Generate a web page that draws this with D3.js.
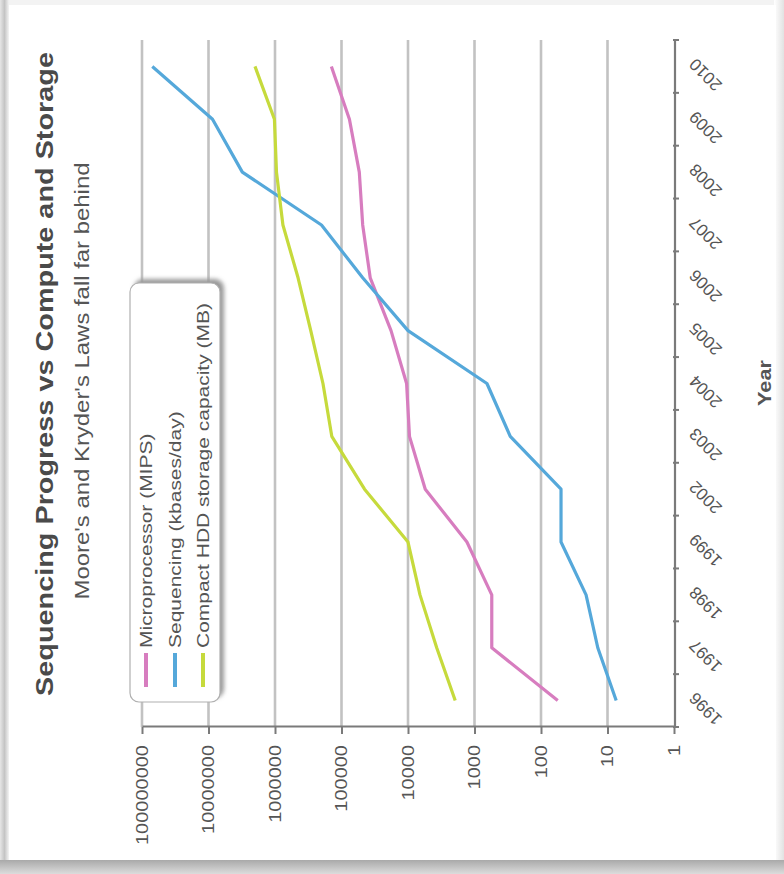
<!DOCTYPE html>
<html><head><meta charset="utf-8">
<script src="https://cdn.jsdelivr.net/npm/d3@7"></script>
<style>body{margin:0;background:#fff}svg{display:block;font-family:"Liberation Sans",Arial,sans-serif}</style>
</head><body><svg id="c" width="784" height="874"></svg>
<script>
const years = ["1996","1997","1998","1999","2002","2003","2004","2005","2006","2007","2008","2009","2010"];
const microprocessor = [56, 550, 550, 1300, 5500, 9500, 10500, 18000, 37000, 48000, 54000, 76000, 142000];
const sequencing = [7.4, 14, 21, 50, 50, 290, 650, 10000, 48000, 200000, 3100000, 8700000, 70000000];
const hdd = [1950, 3700, 6600, 10000, 45000, 140000, 190000, 290000, 450000, 760000, 950000, 1020000, 2000000];
const valueTicks = [1, 10, 100, 1000, 10000, 100000, 1000000, 10000000, 100000000];
const seriesNames = ["Microprocessor (MIPS)", "Sequencing (kbases/day)", "Compact HDD storage capacity (MB)"];
const seriesColors = ["#d77dbf", "#55a8da", "#c6da3c"];
const title = "Sequencing Progress vs Compute and Storage";
const subtitle = "Moore's and Kryder's Laws fall far behind";
const axisTitle = "Year";

const svg = d3.select("#c");
const defs = svg.append("defs");
const gb = defs.append("linearGradient").attr("id","gb").attr("x1",0).attr("y1",0).attr("x2",0).attr("y2",1);
gb.append("stop").attr("offset",0).attr("stop-color","#a9a9a9");
gb.append("stop").attr("offset",1).attr("stop-color","#dcdcdc");
const gl = defs.append("linearGradient").attr("id","gl").attr("x1",0).attr("y1",0).attr("x2",1).attr("y2",0);
gl.append("stop").attr("offset",0).attr("stop-color","#e6e6e6");
gl.append("stop").attr("offset",0.5).attr("stop-color","#c4c4c4");
gl.append("stop").attr("offset",1).attr("stop-color","#f4f4f4");
const gr = defs.append("linearGradient").attr("id","gr").attr("x1",0).attr("y1",0).attr("x2",1).attr("y2",0);
gr.append("stop").attr("offset",0).attr("stop-color","#ffffff");
gr.append("stop").attr("offset",1).attr("stop-color","#e2e2e2");
const blur = defs.append("filter").attr("id","sh").attr("x","-20%").attr("y","-20%").attr("width","140%").attr("height","140%");
blur.append("feGaussianBlur").attr("stdDeviation",2);

// page frame / shadow
svg.append("rect").attr("width",784).attr("height",874).attr("fill","#f3f3f3");
svg.append("rect").attr("x",0).attr("y",0).attr("width",9).attr("height",874).attr("fill","url(#gl)");
svg.append("rect").attr("x",774).attr("y",0).attr("width",10).attr("height",874).attr("fill","url(#gr)");
svg.append("rect").attr("x",9).attr("y",5).attr("width",767).attr("height",855).attr("fill","#fff");
svg.append("rect").attr("x",0).attr("y",860).attr("width",784).attr("height",14).attr("fill","url(#gb)");

// chart drawn in original orientation, then rotated 90deg counter-clockwise
const g = svg.append("g").attr("transform","translate(0,874) rotate(-90)");
const SX = 1.22;

const x = d3.scaleBand().domain(years).range([147, 834]).padding(0);
const cx = d => x(d) + x.bandwidth()/2;
const y = d3.scaleLog().domain([1, 1e8]).range([674, 142]);

// gridlines
g.append("g").selectAll("line").data(valueTicks.slice(1)).join("line")
  .attr("x1",147).attr("x2",834).attr("y1",d=>y(d)).attr("y2",d=>y(d))
  .attr("stroke","#c2c2c2").attr("stroke-width",2.6);

// value axis
const ya = g.append("g").attr("transform","translate(147,0)")
  .call(d3.axisLeft(y).tickValues(valueTicks).tickFormat(d3.format("d")).tickSize(7).tickSizeOuter(0));
ya.select(".domain").attr("stroke","#7a7a7a").attr("stroke-width",2.2);
ya.selectAll(".tick line").attr("stroke","#7a7a7a").attr("stroke-width",2);
ya.selectAll(".tick text").attr("x",-18/SX).attr("transform",`scale(${SX},1)`)
  .attr("font-size",16.4).attr("fill","#555").attr("font-family","Liberation Sans, Arial");

// year axis (bottom in original orientation)
const xa = g.append("g").attr("transform","translate(0,675)");
xa.append("line").attr("x1",147).attr("x2",834).attr("stroke","#7a7a7a").attr("stroke-width",2.2);
const bounds = years.map(d => x(d)).concat([x(years[years.length-1]) + x.bandwidth()]);
xa.selectAll("line.t").data(bounds).join("line").attr("class","t")
  .attr("x1",d=>d).attr("x2",d=>d).attr("y1",-2).attr("y2",4).attr("stroke","#7a7a7a").attr("stroke-width",2);
xa.selectAll("text").data(years).join("text")
  .attr("transform",d=>`translate(${cx(d)+5},${17}) rotate(-45)`)
  .attr("text-anchor","end").attr("dy","0.35em")
  .attr("font-size",17).attr("fill","#555").text(d=>d);

// axis title
g.append("text").attr("transform",`translate(491,771) scale(${SX},1)`).attr("text-anchor","middle")
  .attr("font-size",17.8).attr("font-weight","bold").attr("fill","#555").text(axisTitle);

// titles
g.append("text").attr("transform",`translate(500,53) scale(${SX*0.985},1)`).attr("text-anchor","middle")
  .attr("font-size",24).attr("font-weight","bold").attr("fill","#4a4a4a").text(title);
g.append("text").attr("transform",`translate(493,89) scale(${SX},1)`).attr("text-anchor","middle")
  .attr("font-size",19.6).attr("fill","#555").text(subtitle);

// lines
const line = d3.line().x((d,i)=>cx(years[i])).y(d=>y(d));
[microprocessor, sequencing, hdd].forEach((s,k)=>{
  g.append("path").datum(s).attr("d",line).attr("fill","none")
    .attr("stroke",seriesColors[k]).attr("stroke-width",3.2).attr("stroke-linejoin","round");
});

// legend
const lg = g.append("g");
lg.append("rect").attr("x",176).attr("y",134).attr("width",419).attr("height",90).attr("rx",9)
  .attr("fill","#9a9a9a").attr("filter","url(#sh)");
lg.append("rect").attr("x",172).attr("y",130).attr("width",419).attr("height",90).attr("rx",9)
  .attr("fill","#fff").attr("stroke","#b0b0b0").attr("stroke-width",1.2);
const ly = [146, 175, 203];
seriesNames.forEach((n,k)=>{
  lg.append("line").attr("x1",187).attr("x2",221).attr("y1",ly[k]).attr("y2",ly[k])
    .attr("stroke",seriesColors[k]).attr("stroke-width",4);
  lg.append("text").attr("transform",`translate(226,${ly[k]}) scale(${SX},1)`).attr("dy","0.35em")
    .attr("font-size",17.2).attr("fill","#555").text(n);
});
</script></body></html>
